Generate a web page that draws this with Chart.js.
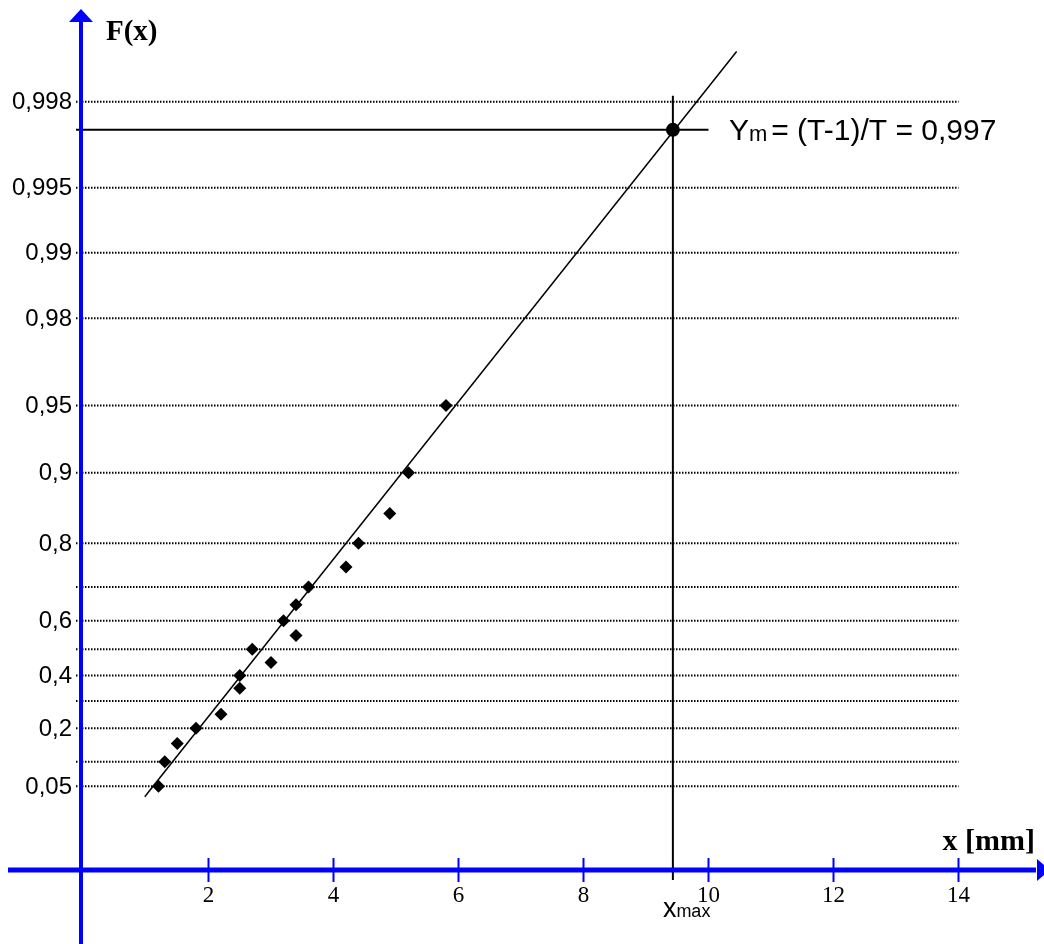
<!DOCTYPE html>
<html>
<head>
<meta charset="utf-8">
<script src="https://cdn.jsdelivr.net/npm/chart.js@4"></script>
<style>
  html, body { margin: 0; padding: 0; background: #fff; }
  canvas { display: block; }
</style>
</head>
<body>
<canvas id="gumbelChart" width="1044" height="944"></canvas>
<script>
// observed sample, x in mm and plotting position F(x)
const sampleX = [1.2, 1.3, 1.5, 1.8, 2.2, 2.5, 2.5, 2.7, 3.0, 3.2, 3.4, 3.4, 3.6, 4.2, 4.4, 4.9, 5.2, 5.8];
const sampleF = [0.05, 0.1, 0.15, 0.2, 0.25, 0.35, 0.4, 0.5, 0.45, 0.6, 0.65, 0.55, 0.7, 0.75, 0.8, 0.85, 0.9, 0.95];

// fitted line ends
const fitX = [0.98, 10.45];
const fitF = [0.0352, 0.99883];

// design level
const ymF = 0.9973;
const xMax = 9.43;

// probability grid
const gridLevels = [0.05, 0.1, 0.2, 0.3, 0.4, 0.5, 0.6, 0.7, 0.8, 0.9, 0.95, 0.98, 0.99, 0.995, 0.998];
const yTickValues = [0.998, 0.995, 0.99, 0.98, 0.95, 0.9, 0.8, 0.6, 0.4, 0.2, 0.05];
const yTickLabels = ['0,998', '0,995', '0,99', '0,98', '0,95', '0,9', '0,8', '0,6', '0,4', '0,2', '0,05'];
const xTickValues = [2, 4, 6, 8, 10, 12, 14];
const xTickLabels = ['2', '4', '6', '8', '10', '12', '14'];

// Gumbel reduced variate
const gumbel = F => -Math.log(-Math.log(F));

const AXIS_BLUE = '#0000ff';
const axisXVal = -0.04;     // where the vertical axis crosses
const axisZVal = -1.991;    // where the horizontal axis crosses

const datasets = [];
gridLevels.forEach(F => {
    datasets.push({
        type: 'line',
        data: [{x: -0.12, y: gumbel(F)}, {x: 14, y: gumbel(F)}],
        borderColor: '#000',
        borderWidth: 2,
        borderDash: [1.5, 1.5],
        pointRadius: 0
    });
});
datasets.push({
    type: 'line',
    data: fitX.map((x, i) => ({x: x, y: gumbel(fitF[i])})),
    borderColor: '#000',
    borderWidth: 1.5,
    pointRadius: 0
});
datasets.push({
    type: 'line',
    data: [{x: -0.12, y: gumbel(ymF)}, {x: 10, y: gumbel(ymF)}],
    borderColor: '#000',
    borderWidth: 2,
    pointRadius: 0
});
datasets.push({
    type: 'line',
    data: [{x: xMax, y: -2.098}, {x: xMax, y: gumbel(0.998125)}],
    borderColor: '#000',
    borderWidth: 2,
    pointRadius: 0
});
datasets.push({
    type: 'scatter',
    data: sampleX.map((x, i) => ({x: x, y: gumbel(sampleF[i])})),
    pointStyle: 'rectRot',
    pointRadius: 6.5,
    backgroundColor: '#000',
    borderColor: '#000',
    borderWidth: 0
});
datasets.push({
    type: 'scatter',
    data: [{x: xMax, y: gumbel(ymF)}],
    pointStyle: 'circle',
    pointRadius: 7,
    backgroundColor: '#000',
    borderWidth: 0
});

const axesPlugin = {
    id: 'gumbelAxes',
    afterDatasetsDraw(chart) {
        const ctx = chart.ctx;
        const xs = chart.scales.x, ys = chart.scales.y;
        const ax = xs.getPixelForValue(axisXVal);
        const ay = ys.getPixelForValue(axisZVal);
        const W = chart.width, H = chart.height;
        ctx.save();
        ctx.strokeStyle = AXIS_BLUE;
        ctx.fillStyle = AXIS_BLUE;
        // horizontal axis
        ctx.lineWidth = 5;
        ctx.beginPath();
        ctx.moveTo(8, ay);
        ctx.lineTo(W - 8, ay);
        ctx.stroke();
        ctx.beginPath();
        ctx.moveTo(W - 7, ay - 11);
        ctx.lineTo(W + 6, ay);
        ctx.lineTo(W - 7, ay + 11);
        ctx.closePath();
        ctx.fill();
        // vertical axis
        ctx.lineWidth = 4;
        ctx.beginPath();
        ctx.moveTo(ax, H);
        ctx.lineTo(ax, 20);
        ctx.stroke();
        ctx.beginPath();
        ctx.moveTo(ax - 12, 22);
        ctx.lineTo(ax, 9);
        ctx.lineTo(ax + 12, 22);
        ctx.closePath();
        ctx.fill();
        // x ticks
        ctx.lineWidth = 2;
        ctx.font = '23px "Liberation Serif", serif';
        ctx.textAlign = 'center';
        ctx.textBaseline = 'alphabetic';
        xTickValues.forEach((v, i) => {
            const px = xs.getPixelForValue(v);
            ctx.strokeStyle = AXIS_BLUE;
            ctx.beginPath();
            ctx.moveTo(px, ay - 12);
            ctx.lineTo(px, ay + 12);
            ctx.stroke();
            ctx.fillStyle = '#000';
            ctx.fillText(xTickLabels[i], px, ay + 32);
        });
        // y tick labels
        ctx.fillStyle = '#000';
        ctx.font = '24px "Liberation Sans", Arial, sans-serif';
        ctx.textAlign = 'right';
        ctx.textBaseline = 'middle';
        yTickValues.forEach((v, i) => {
            ctx.fillText(yTickLabels[i], ax - 9, ys.getPixelForValue(gumbel(v)) + 1);
        });
        // axis titles
        ctx.textBaseline = 'alphabetic';
        ctx.textAlign = 'left';
        ctx.font = 'bold 29px "Liberation Serif", serif';
        ctx.fillText('F(x)', ax + 25, 40);
        ctx.textAlign = 'right';
        ctx.font = 'bold 30px "Liberation Serif", serif';
        ctx.fillText('x [mm]', W - 9, ay - 20);
        // Ym annotation
        const ymPy = ys.getPixelForValue(gumbel(ymF));
        let tx = xs.getPixelForValue(xMax) + 56;
        ctx.textAlign = 'left';
        ctx.font = '30px "Liberation Sans", Arial, sans-serif';
        ctx.fillText('Y', tx, ymPy + 10);
        tx += ctx.measureText('Y').width;
        ctx.font = '22px "Liberation Sans", Arial, sans-serif';
        ctx.fillText('m', tx, ymPy + 11);
        tx += ctx.measureText('m').width + 4;
        ctx.font = '30px "Liberation Sans", Arial, sans-serif';
        ctx.fillText('= (T-1)/T = 0,997', tx, ymPy + 10);
        // x_max label
        let mx = xs.getPixelForValue(xMax) - 10;
        ctx.font = '27px "Liberation Sans", Arial, sans-serif';
        ctx.fillText('x', mx, ay + 47);
        mx += ctx.measureText('x').width;
        ctx.font = '18px "Liberation Sans", Arial, sans-serif';
        ctx.fillText('max', mx, ay + 47);
        ctx.restore();
    }
};

new Chart(document.getElementById('gumbelChart').getContext('2d'), {
    data: { datasets: datasets },
    options: {
        responsive: false,
        animation: false,
        layout: { padding: 0, autoPadding: false },
        plugins: {
            legend: { display: false },
            tooltip: { enabled: false }
        },
        scales: {
            x: { type: 'linear', display: false, min: -1.336, max: 15.368 },
            y: { type: 'linear', display: false, min: -2.781, max: 7.300 }
        }
    },
    plugins: [axesPlugin]
});
</script>
</body>
</html>
